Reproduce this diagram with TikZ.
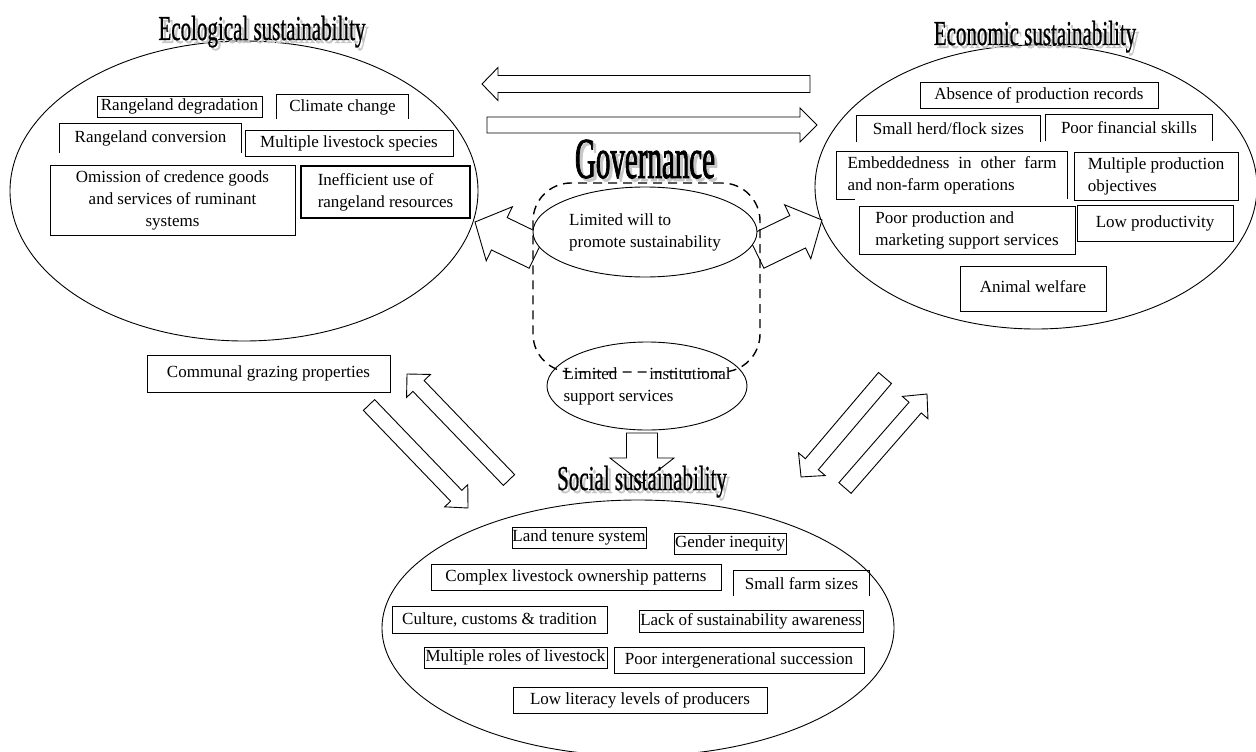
\documentclass[tikz,border=0pt]{standalone}
\usepackage{fontspec}
\setmainfont{Liberation Serif}
\newfontfamily\titlefont[FakeStretch=0.6, FakeBold=0.6]{Liberation Serif}
\newfontfamily\govfont[FakeStretch=0.5, FakeBold=1.3]{Liberation Serif}
\usetikzlibrary{shapes.geometric,calc}

\tikzset{
  factor/.style={draw, line width=0.7pt, inner sep=0pt, align=center,
    font=\fontsize{17}{22}\selectfont},
  boxline/.style={line width=0.7pt},
  pillar/.style={ellipse, draw, line width=0.9pt, inner sep=0pt},
  heading/.style={anchor=base, inner sep=0pt, font=\titlefont\fontsize{35}{35}\selectfont},
  headshade/.style={heading, text=black!22},
  govhead/.style={anchor=base, inner sep=0pt, font=\govfont\fontsize{58}{58}\selectfont},
  govshade/.style={govhead, text=black!22},
  fatarrow/.style={draw, line width=0.9pt, fill=white, line join=miter},
  govframe/.style={draw, dash pattern=on 9pt off 6pt, line width=1.4pt,
    rounded corners=38pt, inner sep=0pt},
}

% block arrow: tail, tip, half shaft, half head, head length
\newcommand{\blockarrow}[5]{%
  \draw[fatarrow] let \p1=($(#2)-(#1)$), \n1={atan2(\y1,\x1)}, \n2={veclen(\x1,\y1)} in
    [shift={(#1)}, rotate=\n1]
    (0,#3) -- ({\n2-#5},#3) -- ({\n2-#5},#4) -- (\n2,0) -- ({\n2-#5},-#4)
    -- ({\n2-#5},-#3) -- (0,-#3) -- cycle;}

\begin{document}
\begin{tikzpicture}[x=1pt, y=-1pt]
\useasboundingbox (0,0) rectangle (1256,752);

% the three pillars
\node[pillar, minimum width=468, minimum height=300] (eco) at (244,191) {};
\node[pillar, minimum width=442, minimum height=284] (econ) at (1036,187) {};
\node[pillar, minimum width=512, minimum height=256] (soc) at (638,628) {};

% ecological factors
\node[factor, minimum width=165, minimum height=21] (degr) at (179.5,106.5) {Rangeland degradation};
\node[factor, draw=none, minimum width=131, minimum height=24] (clim) at (342.5,107) {Climate change};
\draw[boxline] (clim.south west) |- (clim.north east) -- (clim.south east);
\node[factor, draw=none, minimum width=181, minimum height=29] (conv) at (150.5,138.5) {Rangeland conversion};
\draw[boxline] (conv.south west) |- (conv.north east) -- (conv.south east);
\node[factor, minimum width=208, minimum height=26] (spec) at (349,143) {Multiple livestock species};
\node[factor, minimum width=245, minimum height=70] (omis) at (172.5,200)
  {Omission of credence goods\\and services of ruminant\\systems};
\node[factor, line width=1.4pt, align=left, minimum width=169, minimum height=52] (ineff) at (385.5,192)
  {Inefficient use of\\rangeland resources};
\node[factor, minimum width=243, minimum height=37] (comm) at (268.5,373.5) {Communal grazing properties};

% economic factors
\node[factor, minimum width=238, minimum height=26] (recs) at (1039,95) {Absence of production records};
\node[factor, draw=none, minimum width=183, minimum height=26] (herd) at (948.5,129) {Small herd/flock sizes};
\draw[boxline] (herd.south west) |- (herd.north east) -- (herd.south east);
\node[factor, draw=none, minimum width=166, minimum height=26] (fin) at (1129,128) {Poor financial skills};
\draw[boxline] (fin.south west) |- (fin.north east) -- (fin.south east);
\node[factor, draw=none, align=left, minimum width=230, minimum height=47] (embed) at (952,175.5)
  {\makebox[209pt][s]{Embeddedness in other farm}\\and non-farm operations};
\draw[boxline] ($(embed.south west)+(18,0)$) -- (embed.south west) |- (embed.north east) -- (embed.south east);
\node[factor, align=left, minimum width=164, minimum height=48] (obj) at (1156,176)
  {Multiple production\\objectives};
\node[factor, align=left, minimum width=216, minimum height=48] (supp) at (967,230)
  {Poor production and\\marketing support services};
\node[factor, minimum width=156, minimum height=36] (lowp) at (1155,223) {Low productivity};
\node[factor, minimum width=146, minimum height=45] (welf) at (1033,288.5) {\raisebox{4pt}{Animal welfare}};

% social factors
\node[factor, minimum width=134, minimum height=21] (land) at (579,537.5) {Land tenure system};
\node[factor, minimum width=112, minimum height=21] (gend) at (730,543.5) {Gender inequity};
\node[factor, minimum width=290, minimum height=26] (cplx) at (576,577) {Complex livestock ownership patterns};
\node[factor, draw=none, minimum width=135, minimum height=25] (farm) at (801.5,583.5) {Small farm sizes};
\draw[boxline] (farm.south west) |- (farm.north east) -- (farm.south east);
\node[factor, minimum width=215, minimum height=27] (cult) at (499.5,619.5) {Culture, customs \& tradition};
\node[factor, minimum width=224, minimum height=22] (lack) at (751,621) {Lack of sustainability awareness};
\node[factor, minimum width=183, minimum height=21] (roles) at (515.5,657.5) {Multiple roles of livestock};
\node[factor, minimum width=250, minimum height=26] (succ) at (739,660) {Poor intergenerational succession};
\node[factor, minimum width=254, minimum height=26] (lit) at (640,700) {Low literacy levels of producers};

% end points of the block arrows
\coordinate (topL0) at (810,84);   \coordinate (topL1) at (482,84);
\coordinate (topR0) at (487,125);  \coordinate (topR1) at (817,125);
\coordinate (gEco0) at (537,252);  \coordinate (gEco1) at (475,222);
\coordinate (gEcon0) at (756,252); \coordinate (gEcon1) at (822,220);
\coordinate (gSoc0) at (642,433);  \coordinate (gSoc1) at (642,483);
\coordinate (ecoSoc0) at (369,405);  \coordinate (ecoSoc1) at (468,508);
\coordinate (socEco0) at (509,480);  \coordinate (socEco1) at (407,374);
\coordinate (econSoc0) at (885,378); \coordinate (econSoc1) at (801,477);
\coordinate (socEcon0) at (845,488); \coordinate (socEcon1) at (927,394);

\blockarrow{topL0}{topL1}{8.5}{16.5}{16}
\blockarrow{topR0}{topR1}{8}{17}{17}
\blockarrow{gEco0}{gEco1}{18}{30}{27}
\blockarrow{gEcon0}{gEcon1}{18}{30}{27}
\blockarrow{gSoc0}{gSoc1}{15.5}{32}{25}
\blockarrow{ecoSoc0}{ecoSoc1}{7.8}{16}{17}
\blockarrow{socEco0}{socEco1}{7.8}{16.6}{16.6}
\blockarrow{econSoc0}{econSoc1}{8.5}{17.5}{16.7}
\blockarrow{socEcon0}{socEcon1}{8.1}{17}{18}

% governance
\node[pillar, fill=white, align=left, font=\fontsize{17}{22}\selectfont,
  minimum width=224, minimum height=90] (will) at (645,232) {Limited will to\\promote sustainability};
\node[pillar, fill=white, minimum width=200, minimum height=88] (inst) at (647,386) {};
\node[align=left, inner sep=0pt, font=\fontsize{17}{22}\selectfont] (instText) at (inst.center)
  {\makebox[167pt][s]{Limited institutional}\\support services};
\node[govframe, minimum width=227, minimum height=189] (gov) at (646.5,277.5) {};

% titles, each with a grey shadow
\node[headshade] (ecoShade) at (265,43) {Ecological sustainability};
\node[heading] (ecoTitle) at (262,40) {Ecological sustainability};
\node[headshade] (econShade) at (1038,48) {Economic sustainability};
\node[heading] (econTitle) at (1035,45) {Economic sustainability};
\node[headshade] (socShade) at (645,493) {Social sustainability};
\node[heading] (socTitle) at (642,490) {Social sustainability};
\node[govshade] (govShade) at (648,181) {Governance};
\node[govhead] (govTitle) at (645,178) {Governance};
\end{tikzpicture}
\end{document}
